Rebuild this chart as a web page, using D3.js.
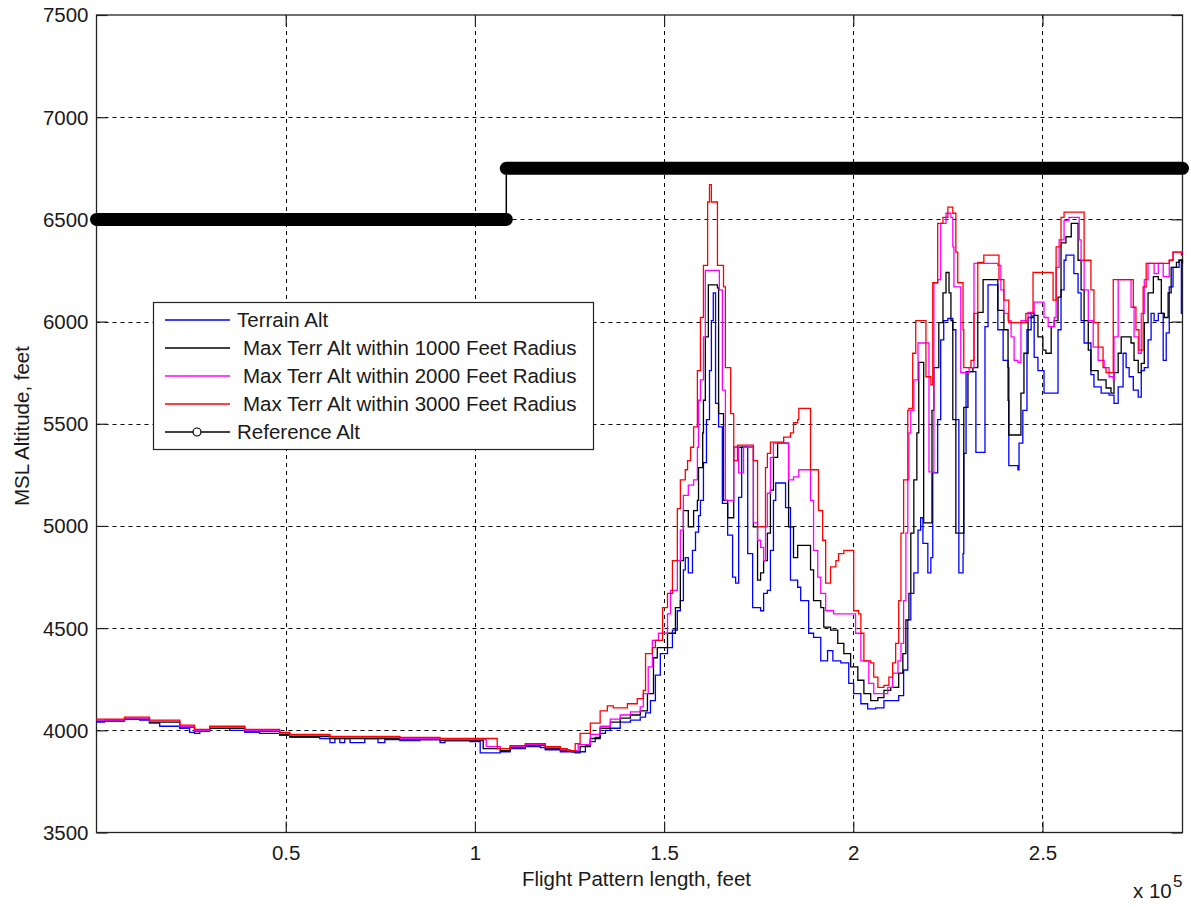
<!DOCTYPE html>
<html><head><meta charset="utf-8">
<script src="https://cdn.jsdelivr.net/npm/d3@7"></script>
<style>
html,body{margin:0;padding:0;background:#fff;}
svg{display:block;font-family:"Liberation Sans",Arial,Helvetica,sans-serif;}
</style></head>
<body>
<svg id="chart" width="1191" height="907"></svg>
<script>
// x in thousands of feet along the flight pattern, y = MSL altitude in feet
const xTicks = [50, 100, 150, 200, 250];
const xTickLabels = ["0.5", "1", "1.5", "2", "2.5"];
const yTicks = [3500, 4000, 4500, 5000, 5500, 6000, 6500, 7000, 7500];

const terrainAlt = [[0,4040],[2.1,4050],[7.4,4055],[11.4,4050],[14.0,4035],[16.7,4020],[22.0,4010],[24.6,3990],[25.9,3985],[27.3,4000],[29.9,4010],[35.2,4000],[39.2,3990],[43.1,3985],[48.4,3975],[51.1,3965],[59.0,3960],[61.7,3940],[63.0,3960],[64.3,3940],[65.6,3960],[67.0,3940],[70.9,3960],[74.4,3940],[76.2,3955],[80.2,3950],[85.5,3955],[90.8,3940],[92.1,3950],[98.7,3945],[101.4,3890],[106.7,3895],[109.3,3910],[113.3,3920],[117.3,3915],[118.6,3905],[122.6,3895],[126.5,3890],[127.8,3895],[129.2,3925],[130.5,3945],[131.8,3965],[133.1,3985],[134.5,4000],[135.8,4010],[138.4,4040],[141.1,4050],[143.7,4065],[145.1,4085],[146.4,4145],[147.7,4270],[149.0,4375],[150.9,4405],[152.2,4490],[153.5,4585],[154.3,4635],[155.1,4785],[155.6,4845],[156.4,4770],[157.5,4880],[158.3,4970],[159.1,5050],[159.6,5125],[160.4,5310],[161.2,5520],[162.0,5760],[162.5,6005],[163.0,6140],[163.6,5600],[164.4,5485],[165.4,5110],[166.8,4955],[168.1,4750],[168.9,4720],[169.7,5140],[170.5,5385],[172.1,4865],[173.4,4600],[175.5,4585],[176.3,4670],[177.3,4685],[178.1,4880],[178.9,5125],[179.5,5210],[182.1,5090],[183.4,4735],[185.3,4700],[186.1,4635],[188.2,4475],[189.5,4455],[191.4,4340],[193.2,4390],[194.6,4340],[196.7,4330],[198.8,4230],[200.1,4180],[202.0,4130],[203.8,4105],[205.9,4110],[208.1,4145],[212.0,4170],[213.3,4295],[214.4,4540],[215.2,4670],[216.0,4770],[217.1,4980],[217.8,5040],[218.4,4915],[219.7,4770],[220.5,4845],[221.0,5260],[222.3,5520],[223.1,5910],[223.9,6005],[225.0,6015],[226.3,5960],[227.1,5520],[227.9,4770],[229.0,4865],[229.2,5355],[229.8,5755],[232.4,5360],[234.8,5975],[235.6,6180],[238.2,5960],[239.6,5810],[240.9,5615],[241.1,5295],[243.5,5275],[243.8,5405],[244.8,5565],[245.9,5960],[247.0,6040],[247.8,5825],[248.8,5760],[250.4,5650],[254.1,5960],[254.9,6155],[255.7,6300],[256.2,6325],[258.3,6235],[259.4,6140],[260.2,6005],[261.0,5895],[262.8,5740],[263.6,5680],[265.5,5650],[267.6,5640],[268.9,5600],[270.0,5680],[271.3,5845],[272.1,5775],[272.9,5730],[274.0,5665],[275.3,5630],[276.1,5760],[276.9,5775],[277.9,5910],[278.7,6040],[279.5,6005],[280.6,6040],[281.9,5810],[282.7,5945],[283.5,6170],[284.5,6265],[286.1,6300],[286.7,6040],[287,6040]];

const maxAlt1000 = [[0,4045],[7.4,4055],[14.0,4040],[22.0,4015],[25.9,3995],[29.9,4010],[39.2,3995],[48.4,3980],[51.1,3970],[61.7,3960],[80.2,3955],[90.8,3950],[102.2,3910],[106.7,3900],[109.3,3915],[113.3,3925],[118.6,3910],[122.6,3900],[125.7,3895],[127.8,3920],[130.5,3960],[133.1,4010],[135.8,4040],[138.4,4060],[141.1,4075],[143.7,4095],[145.6,4180],[147.2,4355],[148.2,4405],[150.9,4475],[153.0,4600],[154.3,4830],[155.1,5075],[156.4,4995],[157.8,5075],[158.8,5125],[159.1,5285],[160.2,5455],[160.4,5615],[160.9,5925],[161.7,6180],[164.1,6165],[164.4,5550],[165.7,5125],[166.8,5040],[168.4,5385],[173.6,4995],[174.7,4735],[175.5,4770],[176.3,4830],[177.3,4965],[178.1,5175],[178.9,5335],[180.0,5405],[182.9,4995],[184.2,4845],[185.3,4905],[188.7,4785],[189.5,4635],[191.4,4600],[192.2,4505],[194.0,4490],[195.9,4425],[197.5,4375],[199.3,4310],[201.2,4245],[202.8,4180],[204.6,4145],[206.5,4160],[208.1,4195],[209.9,4210],[212.0,4280],[213.1,4375],[213.9,4540],[214.7,4670],[215.2,4965],[216.0,5225],[216.8,5455],[217.3,5800],[218.6,5015],[220.8,5565],[221.3,5775],[222.6,5995],[223.7,6140],[224.5,6240],[225.3,6140],[225.8,6005],[226.3,5520],[227.1,4965],[229.2,5580],[230.3,5755],[231.6,5775],[232.9,6045],[234.3,6205],[238.2,6055],[239.8,5960],[240.9,5775],[241.1,5445],[244.3,5650],[245.1,5845],[246.2,6020],[247.5,6030],[248.8,5925],[250.1,5860],[250.9,5845],[252.3,5975],[253.1,6005],[254.1,6120],[254.9,6385],[256.2,6415],[257.6,6480],[259.4,6300],[260.2,6155],[261.0,6005],[262.1,5860],[262.8,5760],[264.7,5715],[266.8,5675],[268.1,5650],[268.9,5750],[270.0,5845],[270.8,5925],[273.4,5895],[274.2,5810],[275.3,5750],[276.1,5795],[276.9,5995],[277.9,6140],[279.3,6220],[280.6,6205],[281.4,6040],[282.2,6020],[283.2,6140],[284.0,6265],[285.4,6290],[286.1,6300],[287,6285]];

const maxAlt2000 = [[0,4050],[7.4,4060],[14.0,4045],[22.0,4020],[25.9,4000],[29.9,4015],[39.2,4000],[48.4,3985],[51.1,3975],[61.7,3965],[80.2,3960],[90.8,3955],[103.0,3920],[106.7,3910],[109.3,3920],[113.3,3930],[118.6,3915],[122.6,3905],[125.2,3900],[127.3,3930],[130.5,3980],[133.1,4020],[135.8,4055],[138.4,4075],[141.1,4090],[143.7,4115],[144.5,4180],[145.8,4310],[146.9,4440],[148.5,4475],[150.9,4570],[151.7,4685],[153.5,4830],[154.3,4980],[155.1,5150],[156.4,5200],[157.8,5225],[158.8,5385],[159.1,5615],[159.6,5715],[160.4,5925],[160.9,6250],[164.6,6155],[165.4,5665],[166.2,5125],[168.4,5385],[169.7,5260],[171.0,5385],[173.6,5015],[174.7,4930],[175.5,4895],[176.3,4830],[176.8,4995],[177.3,5160],[178.1,5335],[178.9,5405],[182.9,5225],[184.2,5240],[185.6,5275],[188.7,5125],[189.5,4880],[190.6,4750],[191.4,4670],[192.7,4585],[194.8,4570],[200.6,4475],[202.0,4340],[204.1,4230],[205.4,4180],[209.1,4210],[210.4,4280],[211.8,4340],[212.6,4425],[213.3,4635],[213.9,4965],[214.4,5225],[214.7,5455],[215.2,5565],[216.0,5715],[217.1,5895],[220.0,5265],[221.3,6190],[222.3,6205],[223.1,6480],[224.5,6530],[225.8,6510],[226.3,6365],[226.6,6170],[228.4,5750],[230.6,5775],[231.9,6285],[238.2,6275],[239.0,6155],[239.8,6040],[240.9,6005],[241.7,5925],[242.5,5810],[243.5,5800],[244.3,6005],[246.2,6045],[247.8,6095],[250.4,6020],[251.5,5975],[253.1,6020],[253.6,6265],[254.4,6400],[255.7,6495],[257.0,6510],[259.7,6400],[260.2,6300],[261.0,6155],[262.1,6005],[263.4,5875],[264.7,5810],[266.3,5775],[267.6,5730],[268.7,5715],[268.9,5925],[270.0,6205],[273.4,6070],[274.2,5925],[275.3,5845],[276.1,6040],[276.9,6205],[277.9,6285],[279.5,6235],[280.6,6285],[281.9,6220],[283.5,6300],[284.5,6340],[287,6335]];

const maxAlt3000 = [[0,4055],[7.4,4065],[14.0,4050],[22.0,4025],[25.9,4005],[29.9,4020],[39.2,4005],[48.4,3990],[51.1,3980],[61.7,3970],[80.2,3965],[90.8,3960],[105.9,3910],[109.3,3925],[113.3,3935],[118.6,3920],[122.6,3910],[124.4,3900],[126.5,3935],[127.8,3985],[130.5,4035],[133.1,4095],[135.0,4120],[136.6,4110],[140.3,4130],[142.9,4155],[144.5,4195],[145.1,4375],[146.9,4405],[147.7,4440],[149.6,4600],[150.9,4670],[152.2,4830],[153.5,5085],[154.3,5225],[155.6,5275],[156.2,5320],[157.0,5385],[157.8,5485],[158.8,5760],[159.6,6020],[160.4,6275],[161.5,6585],[162.0,6670],[162.5,6585],[164.1,6275],[165.7,6170],[166.2,5775],[167.6,5550],[168.4,5320],[169.4,5395],[173.6,5320],[174.7,4995],[176.8,5285],[177.3,5355],[178.1,5410],[181.6,5435],[183.4,5455],[184.2,5505],[185.3,5520],[185.6,5575],[188.7,5275],[190.8,5075],[191.9,4930],[192.7,4720],[194.0,4800],[195.4,4830],[196.1,4865],[197.5,4880],[200.1,4585],[201.4,4570],[202.0,4475],[202.8,4340],[204.6,4330],[205.4,4260],[206.5,4210],[208.1,4220],[209.4,4260],[210.4,4330],[211.2,4425],[212.0,4635],[212.6,4965],[213.3,5225],[214.4,5565],[214.7,5575],[215.7,5845],[216.5,6005],[219.2,5730],[220.5,5690],[221.0,6190],[222.3,6480],[223.7,6510],[225.0,6560],[226.3,6530],[227.1,6340],[227.6,6190],[229.0,5960],[229.2,5775],[231.1,5810],[231.9,6040],[232.9,6290],[234.5,6325],[238.5,6205],[239.8,6105],[241.1,5995],[245.6,6040],[247.5,6240],[252.8,6105],[253.6,6365],[254.9,6510],[255.7,6535],[261.0,6300],[262.8,6155],[263.6,5995],[264.7,5875],[266.0,5775],[266.8,5750],[268.7,6205],[274.0,6070],[274.7,5960],[275.5,5860],[276.6,6170],[277.4,6285],[283.5,6300],[284.5,6340],[286.7,6325],[287,6325]];

const refDist = [0, 108.3, 287];
const refAlt = [6500, 6750, 6750];

const seriesNames = ["Terrain Alt", "Max Terr Alt within 1000 Feet Radius", "Max Terr Alt within 2000 Feet Radius", "Max Terr Alt within 3000 Feet Radius", "Reference Alt"];
const seriesColors = ["#0000ff", "#000000", "#ff00ff", "#ff0000", "#000000"];

const svg = d3.select("#chart");
const L = 96.5, R = 1182.5, T = 15, B = 832.5;
const x = d3.scaleLinear().domain([0, 287]).range([L, R]);
const y = d3.scaleLinear().domain([3500, 7500]).range([B, T]);
const FS = "20.5px";
const txt = "#1a1a1a";

// grid
const grid = svg.append("g").attr("stroke", "#000").attr("stroke-width", 1).attr("stroke-dasharray", "4,4");
grid.selectAll(".gx").data(xTicks).join("line")
  .attr("x1", d => Math.round(x(d)) + 0.5).attr("x2", d => Math.round(x(d)) + 0.5)
  .attr("y1", T).attr("y2", B);
grid.selectAll(".gy").data(yTicks.slice(1, -1)).join("line")
  .attr("y1", d => Math.round(y(d)) + 0.5).attr("y2", d => Math.round(y(d)) + 0.5)
  .attr("x1", L).attr("x2", R);

// axes (ticks inward on all sides)
const tk = 11;
const gxB = svg.append("g").attr("transform", `translate(0,${B})`)
  .call(d3.axisBottom(x).tickValues(xTicks).tickSizeInner(-tk).tickSizeOuter(0).tickPadding(13)
    .tickFormat((d, i) => xTickLabels[i]));
const gxT = svg.append("g").attr("transform", `translate(0,${T})`)
  .call(d3.axisTop(x).tickValues(xTicks).tickSizeInner(-tk).tickSizeOuter(0).tickFormat(""));
const gyL = svg.append("g").attr("transform", `translate(${L},0)`)
  .call(d3.axisLeft(y).tickValues(yTicks).tickSizeInner(-tk).tickSizeOuter(0).tickPadding(8)
    .tickFormat(d3.format("d")));
const gyR = svg.append("g").attr("transform", `translate(${R},0)`)
  .call(d3.axisRight(y).tickValues(yTicks).tickSizeInner(-tk).tickSizeOuter(0).tickFormat(""));
[gxB, gxT, gyL, gyR].forEach(g => {
  g.select(".domain").remove();
  g.selectAll("line").attr("stroke", "#222").attr("stroke-width", 1.2);
  g.selectAll("text").attr("font-size", FS).attr("fill", txt).attr("font-family", null);
});
gyL.selectAll("text").attr("dy", "0.34em");

// box
svg.append("rect").attr("x", L).attr("y", T).attr("width", R - L).attr("height", B - T)
  .attr("fill", "none").attr("stroke", "#222").attr("stroke-width", 1.3);

// data lines
const line = d3.line().x(d => x(d[0])).y(d => y(d[1])).curve(d3.curveStepAfter);
const dataSeries = [terrainAlt, maxAlt1000, maxAlt2000, maxAlt3000];
const lg = svg.append("g");
dataSeries.forEach((s, i) => {
  lg.append("path").datum(s).attr("d", line).attr("fill", "none")
    .attr("stroke", seriesColors[i]).attr("stroke-width", 1.3).attr("stroke-linejoin", "miter");
});

// reference altitude (dense circle markers appear as a thick bar)
const refPts = refDist.map((d, i) => [d, refAlt[i]]);
lg.append("path").datum(refPts).attr("d", line).attr("fill", "none")
  .attr("stroke", "#000").attr("stroke-width", 1.5);
for (let i = 0; i < refPts.length - 1; i++) {
  lg.append("line")
    .attr("x1", x(refPts[i][0])).attr("x2", x(refPts[i + 1][0]))
    .attr("y1", y(refPts[i][1])).attr("y2", y(refPts[i][1]))
    .attr("stroke", "#000").attr("stroke-width", 13).attr("stroke-linecap", "round");
}

// axis labels
svg.append("text").attr("x", 636.5).attr("y", 886).attr("text-anchor", "middle")
  .attr("font-size", FS).attr("fill", txt).text("Flight Pattern length, feet");
svg.append("text").attr("transform", "translate(29,426) rotate(-90)").attr("text-anchor", "middle")
  .attr("font-size", FS).attr("fill", txt).text("MSL Altitude, feet");
const ex = svg.append("text").attr("x", 1133).attr("y", 898).attr("font-size", FS).attr("fill", txt);
ex.append("tspan").text("x 10");
svg.append("text").attr("x", 1173).attr("y", 887).attr("font-size", "17px").attr("fill", txt).text("5");

// legend
const leg = svg.append("g");
leg.append("rect").attr("x", 153.5).attr("y", 302.5).attr("width", 440).attr("height", 147)
  .attr("fill", "#fff").attr("stroke", "#222").attr("stroke-width", 1.2);
const rowY = [320, 348, 376, 404, 432];
seriesNames.forEach((n, i) => {
  leg.append("line").attr("x1", 165).attr("x2", 230).attr("y1", rowY[i]).attr("y2", rowY[i])
    .attr("stroke", seriesColors[i]).attr("stroke-width", 1.3);
  if (i === 4) {
    leg.append("circle").attr("cx", 197).attr("cy", rowY[i]).attr("r", 4)
      .attr("fill", "#fff").attr("stroke", "#000").attr("stroke-width", 1.2);
  }
  leg.append("text").attr("x", (i === 0 || i === 4) ? 237 : 243).attr("y", rowY[i]).attr("dy", "0.36em")
    .attr("font-size", FS).attr("fill", txt).text(n);
});
</script>
</body></html>
